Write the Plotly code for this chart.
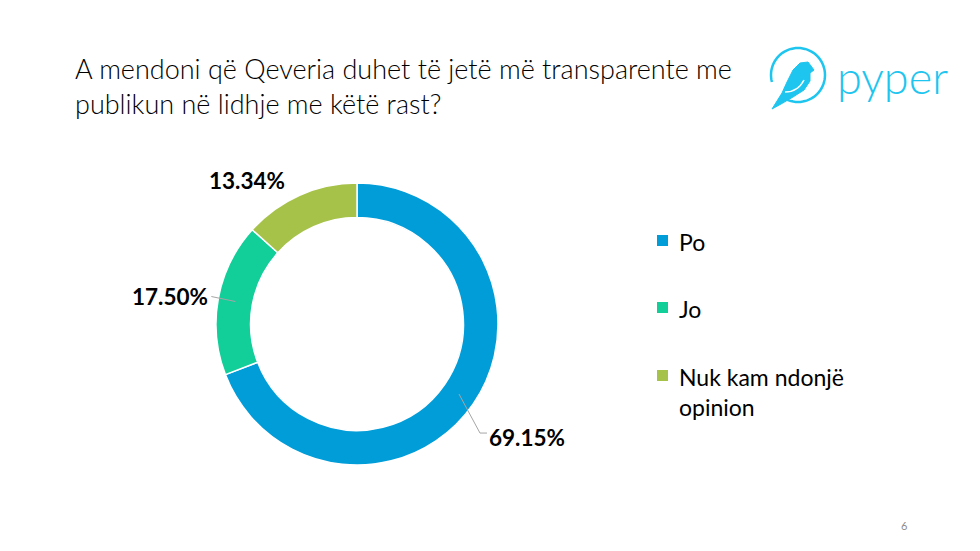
import math
import plotly.graph_objects as go

# ---- data ----
labels = ["Po", "Jo", "Nuk kam ndonjë opinion"]
legend_labels = ["Po", "Jo", "Nuk kam ndonjë<br>opinion"]
values = [69.15, 17.50, 13.34]
value_text = ["69.15%", "17.50%", "13.34%"]
colors = ["#009DD9", "#12CE99", "#A6C249"]
title_text = "A mendoni që Qeveria duhet të jetë më transparente me<br>publikun në lidhje me këtë rast?"

W, H = 980, 551
def px(x):
    return x / W
def py(y):
    return 1 - y / H

# pie geometry (pixels)
CX, CY, R = 357, 324, 141
HOLE = 0.755

fig = go.Figure()
fig.add_trace(go.Pie(
    labels=labels, values=values, sort=False, direction="clockwise", rotation=0,
    hole=HOLE, textinfo="none", hoverinfo="label+percent",
    marker=dict(colors=colors, line=dict(color="white", width=1.5)),
    domain=dict(x=[px(CX - R), px(CX + R)], y=[py(CY + R), py(CY - R)]),
    showlegend=False,
))

annotations = []
shapes = []

# label positions derived from slice mid-angles
total = sum(values)
cum = 0
r_mid = R * (1 + HOLE) / 2
for i, v in enumerate(values):
    mid = (cum + v / 2) / total * 2 * math.pi
    cum += v
    ax = CX + r_mid * math.sin(mid)
    ay = CY - r_mid * math.cos(mid)
    lbl_font = dict(family="Lato", size=22.5, color="#000000", weight="bold")
    if i == 0:
        ex, ey = ax + 21, ay + 39
        shapes.append(dict(type="path", xref="paper", yref="paper",
                           path=f"M {px(ax)} {py(ay)} L {px(ex)} {py(ey)} L {px(ex+7)} {py(ey)}",
                           line=dict(color="#A6A6A6", width=1)))
        annotations.append(dict(x=px(ex + 7), y=py(ey + 4), xref="paper", yref="paper",
                                text=value_text[i], showarrow=False, xanchor="left",
                                yanchor="middle", font=lbl_font))
    elif i == 1:
        ex, ey = ax - 24, ay - 5
        shapes.append(dict(type="line", xref="paper", yref="paper",
                           x0=px(ax), y0=py(ay), x1=px(ex), y1=py(ey),
                           line=dict(color="#A6A6A6", width=1)))
        annotations.append(dict(x=px(ex - 1), y=py(ey), xref="paper", yref="paper",
                                text=value_text[i], showarrow=False, xanchor="right",
                                yanchor="middle", font=lbl_font))
    else:
        ox = CX + R * math.sin(mid)
        oy = CY - R * math.cos(mid)
        annotations.append(dict(x=px(ox - 53), y=py(oy - 15), xref="paper", yref="paper",
                                text=value_text[i], showarrow=False, xanchor="center",
                                yanchor="middle", font=lbl_font))

# manual legend
leg_y = [241, 308, 376]
for i, lab in enumerate(legend_labels):
    y = leg_y[i]
    shapes.append(dict(type="rect", xref="paper", yref="paper",
                       x0=px(657), x1=px(668), y0=py(y + 5), y1=py(y - 6),
                       fillcolor=colors[i], line=dict(width=0)))
    annotations.append(dict(x=px(677), y=py(y - 15), xref="paper", yref="paper",
                            text=lab, showarrow=False, xanchor="left", yanchor="top",
                            align="left", font=dict(family="Lato", size=23, color="#000000")))

# title
annotations.append(dict(x=px(73), y=py(50), xref="paper", yref="paper", text=title_text,
                        showarrow=False, xanchor="left", yanchor="top", align="left",
                        font=dict(family="Lato", size=27, color="#000000", weight=300)))

# page number
annotations.append(dict(x=px(904), y=py(525), xref="paper", yref="paper", text="6",
                        showarrow=False, xanchor="center", yanchor="middle",
                        font=dict(family="Lato", size=11, color="#8C8C8C")))

# logo
LOGO = "#1DC5EF"
lcx, lcy, lr = 798, 75, 27
shapes.append(dict(type="path", xref="paper", yref="paper",
                   path=" ".join(
                       ("M" if k == 0 else "L") + f" {px(lcx + lr*math.cos(math.radians(a)))} {py(lcy - lr*math.sin(math.radians(a)))}"
                       for k, a in enumerate(range(-115, 200, 5))),
                   line=dict(color=LOGO, width=2.5)))
bird = [(814, 70), (808, 62), (800, 63), (793, 70), (787, 82), (782, 93), (772, 109),
        (781, 104), (793, 97), (804, 90), (810, 81), (810, 73)]
shapes.append(dict(type="path", xref="paper", yref="paper",
                   path="M " + " L ".join(f"{px(x)} {py(y)}" for x, y in bird) + " Z",
                   fillcolor=LOGO, line=dict(color=LOGO, width=1)))
shapes.append(dict(type="path", xref="paper", yref="paper",
                   path=f"M {px(785)} {py(92)} Q {px(798)} {py(92)} {px(804)} {py(80)}",
                   line=dict(color="white", width=1.5)))
annotations.append(dict(x=px(835), y=py(77), xref="paper", yref="paper", text="pyper",
                        showarrow=False, xanchor="left", yanchor="middle",
                        font=dict(family="Lato", size=45, color=LOGO, weight=300)))

fig.update_layout(
    width=W, height=H, margin=dict(l=0, r=0, t=0, b=0),
    paper_bgcolor="white", plot_bgcolor="white",
    annotations=annotations, shapes=shapes, showlegend=False,
)

fig.write_html("out.html")
